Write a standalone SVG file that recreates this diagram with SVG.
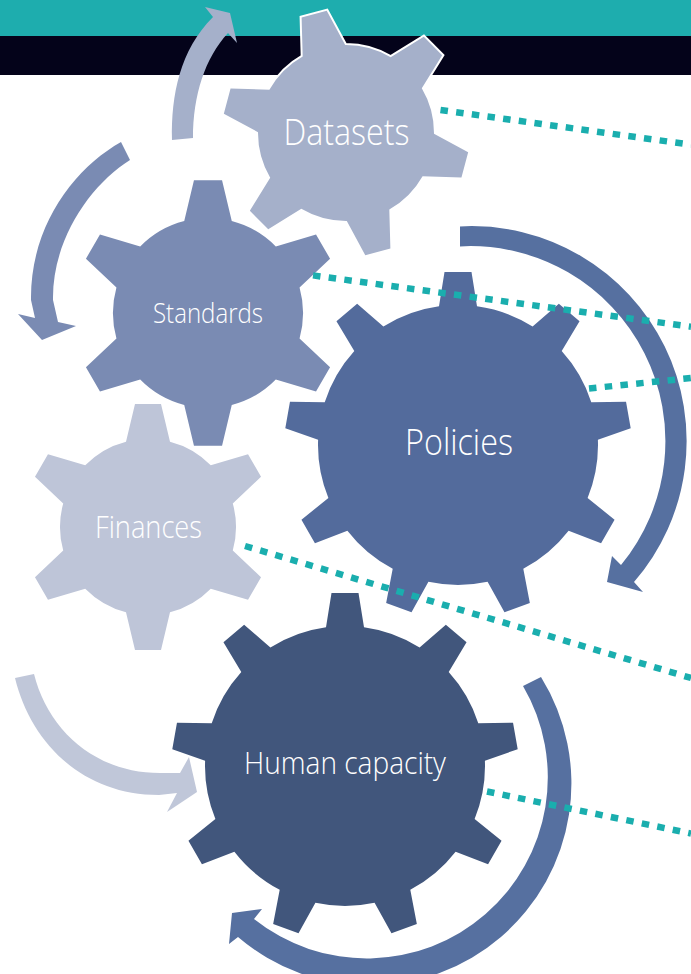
<svg xmlns="http://www.w3.org/2000/svg" xmlns:xlink="http://www.w3.org/1999/xlink" width="691" height="974" viewBox="0 0 691 974">
  <style>
    .gear { stroke: #ffffff; stroke-width: 4; paint-order: stroke; stroke-linejoin: miter; }
    .label { font-family: "Open Sans", "Liberation Sans", sans-serif; font-weight: 300; fill: #ffffff; text-anchor: middle; }
    .link { fill: none; stroke: #1aaeae; stroke-width: 6.5; stroke-dasharray: 7.5 8.3; }
    .arrow { stroke: none; }
  </style>
  <defs>
    <!-- six-tooth gear, body r=88, tip r=123 -->
    <path id="gear6" d="M -22,-85.2 L -13,-123 L 13,-123 L 22,-85.2 A 88 88 0 0 1 62.78,-61.65 L 100.02,-72.76 L 113.02,-50.24 L 84.78,-23.55 A 88 88 0 0 1 84.78,23.55 L 113.02,50.24 L 100.02,72.76 L 62.78,61.65 A 88 88 0 0 1 22,85.2 L 13,123 L -13,123 L -22,85.2 A 88 88 0 0 1 -62.78,61.65 L -100.02,72.76 L -113.02,50.24 L -84.78,23.55 A 88 88 0 0 1 -84.78,-23.55 L -113.02,-50.24 L -100.02,-72.76 L -62.78,-61.65 A 88 88 0 0 1 -22,-85.2 Z"/>
    <!-- nine-tooth gear, body r=140, tip r=173 -->
    <path id="gear9" d="M -19,-138.7 L -13.5,-173 L 13.5,-173 L 19,-138.7 A 140 140 0 0 1 74.6,-118.46 L 100.86,-141.2 L 121.55,-123.84 L 103.71,-94.03 A 140 140 0 0 1 133.29,-42.79 L 168.03,-43.33 L 172.71,-16.74 L 139.89,-5.37 A 140 140 0 0 1 129.61,52.9 L 156.57,74.81 L 143.07,98.19 L 110.61,85.8 A 140 140 0 0 1 65.29,123.84 L 71.85,157.95 L 46.48,167.19 L 29.58,136.84 A 140 140 0 0 1 -29.58,136.84 L -46.48,167.19 L -71.85,157.95 L -65.29,123.84 A 140 140 0 0 1 -110.61,85.8 L -143.07,98.19 L -156.57,74.81 L -129.61,52.9 A 140 140 0 0 1 -139.89,-5.37 L -172.71,-16.74 L -168.03,-43.33 L -133.29,-42.79 A 140 140 0 0 1 -103.71,-94.03 L -121.55,-123.84 L -100.86,-141.2 L -74.6,-118.46 A 140 140 0 0 1 -19,-138.7 Z"/>
  </defs>

  <!-- header bands -->
  <rect x="0" y="0" width="691" height="36" fill="#1eadae"/>
  <rect x="0" y="36" width="691" height="39" fill="#04031a"/>

  <!-- gears -->
  <g id="datasets">
    <use xlink:href="#gear6" href="#gear6" class="gear" fill="#a5b0ca" transform="translate(346,133) rotate(-15)"/>
    <text class="label" x="346.5" y="145" font-size="37" textLength="126" lengthAdjust="spacingAndGlyphs">Datasets</text>
  </g>
  <g id="standards">
    <use xlink:href="#gear6" href="#gear6" class="gear" fill="#7a8bb3" transform="translate(208,313) scale(1.08)"/>
    <text class="label" x="208" y="323" font-size="28" textLength="110" lengthAdjust="spacingAndGlyphs">Standards</text>
  </g>
  <g id="policies">
    <use xlink:href="#gear9" href="#gear9" class="gear" fill="#536b9c" transform="translate(458,445)"/>
    <text class="label" x="459" y="454.5" font-size="36.5" textLength="108" lengthAdjust="spacingAndGlyphs">Policies</text>
  </g>
  <g id="finances">
    <use xlink:href="#gear6" href="#gear6" class="gear" fill="#bec5d8" transform="translate(148,527)"/>
    <text class="label" x="148.5" y="538" font-size="31.5" textLength="107" lengthAdjust="spacingAndGlyphs">Finances</text>
  </g>
  <g id="human-capacity">
    <use xlink:href="#gear9" href="#gear9" class="gear" fill="#41567c" transform="translate(345,766)"/>
    <text class="label" x="345" y="774" font-size="31" textLength="202" lengthAdjust="spacingAndGlyphs">Human capacity</text>
  </g>

  <!-- connectors: cycle arrows and dotted leader lines -->
  <g id="connectors">
    <path class="arrow" fill="#a5b0ca" d="M172,140 C171,95 180,50 213,17 L205,7 L230,13 L237,43 L228,33 C205,58 193,95 193,138 Z"/>
    <path class="arrow" fill="#7a8bb3" d="M121,142 C75,168 30,225 31,300 L35,318 L18,314 L42,340 L76,326 L58,322 L53,300 C52,240 90,185 130,160 Z"/>
    <path class="arrow" fill="#5670a0" d="M460,226.4 A215,215 0 0 1 634,582 L643,592 L607,582 L612,556 L621,565 A195,195 0 0 0 460,246.4 Z"/>
    <path class="arrow" fill="#c0c7d9" d="M15,678 C30,740 80,795 159,795 L177,793 L167,812 L197,792 L189,757 L180,773 L160,773 C95,773 48,730 34,674 Z"/>
    <path class="arrow" fill="#5670a0" d="M541,677 A202,202 0 0 1 238,937 L229,944 L232,913 L262,909 L254,919 A181,181 0 0 0 523,686 Z"/>

    <line class="link" x1="440.5" y1="110" x2="691" y2="144.7"/>
    <line class="link" x1="313" y1="275.4" x2="691" y2="326.7"/>
    <line class="link" x1="589" y1="388.5" x2="691" y2="378"/>
    <line class="link" x1="245" y1="546" x2="691" y2="678"/>
    <line class="link" x1="487" y1="791.5" x2="691" y2="833.5"/>
  </g>
</svg>
